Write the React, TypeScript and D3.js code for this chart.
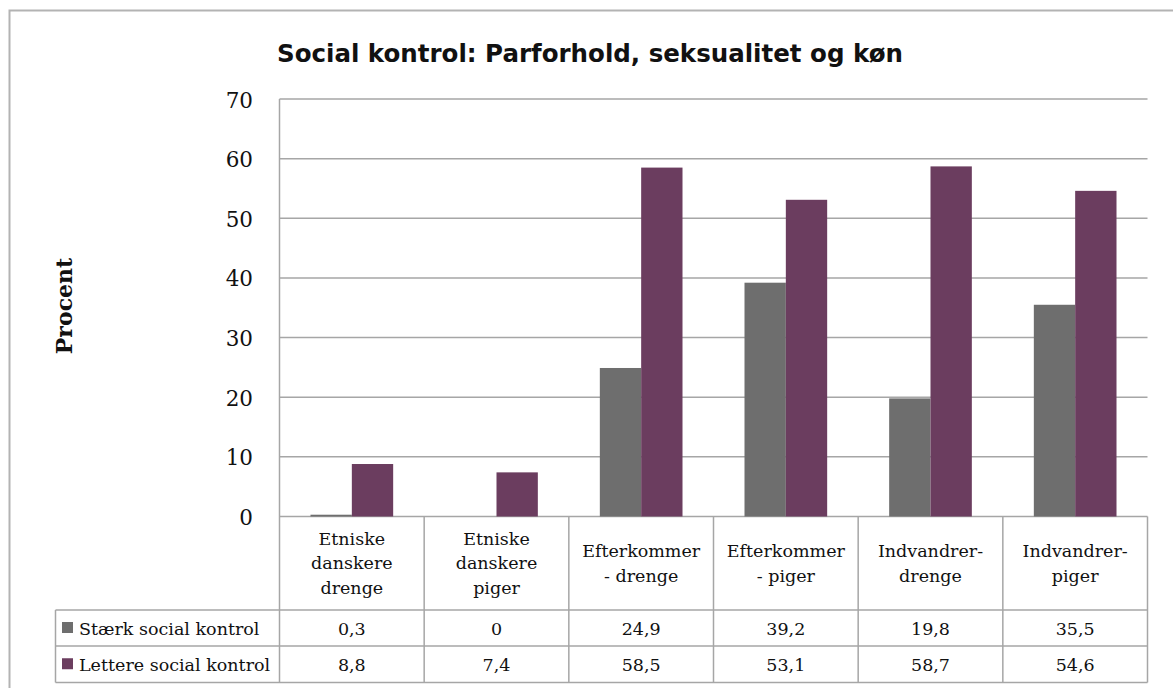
import React from "react";
import * as d3 from "d3";

const title = "Social kontrol: Parforhold, seksualitet og køn";
const yAxisTitle = "Procent";
const categories: string[][] = [
  ["Etniske", "danskere", "drenge"],
  ["Etniske", "danskere", "piger"],
  ["Efterkommer", "- drenge"],
  ["Efterkommer", "- piger"],
  ["Indvandrer-", "drenge"],
  ["Indvandrer-", "piger"],
];
const seriesNames = ["Stærk social kontrol", "Lettere social kontrol"];
const staerk = [0.3, 0, 24.9, 39.2, 19.8, 35.5];
const lettere = [8.8, 7.4, 58.5, 53.1, 58.7, 54.6];
const yTicks = [0, 10, 20, 30, 40, 50, 60, 70];
const seriesColors = ["#6e6e6e", "#6b3d5f"];

const W = 1173;
const H = 688;
const plotL = 279.5;
const plotR = 1147.5;
const plotT = 99;
const plotB = 516.5;
const catRowB = 610;
const row1B = 646;
const row2B = 682.5;
const tableL = 55.5;
const serif = "'DejaVu Serif', serif";
const gridColor = "#a6a6a6";

const fmt = (v: number) => String(v).replace(".", ",");

export default function App() {
  const series = [staerk, lettere];
  const x = d3
    .scaleBand<number>()
    .domain(categories.map((_, i) => i))
    .range([plotL, plotR])
    .padding(0);
  const xs = d3
    .scaleBand<number>()
    .domain([0, 1])
    .range([0, x.bandwidth()])
    .paddingInner(0)
    .paddingOuter(0.75);
  const y = d3.scaleLinear().domain([0, 70]).range([plotB, plotT]);

  const rowYs = [
    [catRowB, row1B],
    [row1B, row2B],
  ];

  return (
    <svg
      width={W}
      height={H}
      style={{ position: "absolute", left: 0, top: 0, background: "#fff" }}
    >
      <rect x={0} y={0} width={W} height={H} fill="#fff" />
      {/* outer chart border */}
      <rect
        x={9.5}
        y={10.5}
        width={W + 20}
        height={H + 20}
        fill="none"
        stroke="#b3b3b3"
        strokeWidth={2}
      />
      {/* title */}
      <text
        x={277}
        y={62}
        fontFamily="'DejaVu Sans', sans-serif"
        fontWeight="bold"
        fontSize={24.5}
        fill="#111"
      >
        {title}
      </text>
      {/* y axis title */}
      <text
        transform={`translate(72, 306) rotate(-90)`}
        textAnchor="middle"
        fontFamily={serif}
        fontWeight="bold"
        fontSize={22}
        fill="#111"
      >
        {yAxisTitle}
      </text>
      {/* gridlines */}
      {yTicks.map((t) => (
        <line
          key={"g" + t}
          x1={plotL}
          x2={plotR}
          y1={y(t)}
          y2={y(t)}
          stroke={gridColor}
          strokeWidth={1.5}
        />
      ))}
      {/* y tick labels */}
      {yTicks.map((t) => (
        <text
          key={"t" + t}
          x={253}
          y={y(t) + 1}
          textAnchor="end"
          dominantBaseline="central"
          fontFamily={serif}
          fontSize={21.5}
          fill="#111"
        >
          {t}
        </text>
      ))}
      {/* bars */}
      {series.map((vals, s) =>
        vals.map((v, i) => (
          <rect
            key={`b${s}-${i}`}
            x={(x(i) ?? 0) + (xs(s) ?? 0)}
            y={y(v)}
            width={xs.bandwidth()}
            height={Math.max(0, y(0) - y(v))}
            fill={seriesColors[s]}
          />
        ))
      )}
      {/* axis left line */}
      <line
        x1={plotL}
        x2={plotL}
        y1={plotT}
        y2={row2B}
        stroke={gridColor}
        strokeWidth={1.5}
      />
      {/* table: category row vertical lines */}
      {categories.map((_, i) => (
        <line
          key={"cv" + i}
          x1={(x(i) ?? 0) + x.bandwidth()}
          x2={(x(i) ?? 0) + x.bandwidth()}
          y1={plotB}
          y2={row2B}
          stroke={gridColor}
          strokeWidth={1.5}
        />
      ))}
      {/* table horizontal lines */}
      {[catRowB, row1B, row2B].map((yy, k) => (
        <line
          key={"th" + k}
          x1={tableL}
          x2={plotR}
          y1={yy}
          y2={yy}
          stroke={gridColor}
          strokeWidth={1.5}
        />
      ))}
      <line
        x1={tableL}
        x2={tableL}
        y1={catRowB}
        y2={row2B}
        stroke={gridColor}
        strokeWidth={1.5}
      />
      {/* category labels */}
      {categories.map((lines, i) => {
        const cx = (x(i) ?? 0) + x.bandwidth() / 2;
        const cy = (plotB + catRowB) / 2;
        const lh = 24.5;
        return (
          <text
            key={"c" + i}
            textAnchor="middle"
            fontFamily={serif}
            fontSize={17.5}
            fill="#111"
          >
            {lines.map((ln, j) => (
              <tspan
                key={j}
                x={cx}
                y={cy + (j - (lines.length - 1) / 2) * lh}
                dominantBaseline="central"
              >
                {ln}
              </tspan>
            ))}
          </text>
        );
      })}
      {/* legend + values rows */}
      {series.map((vals, s) => {
        const [r0, r1] = rowYs[s];
        const cy = (r0 + r1) / 2;
        return (
          <g key={"row" + s}>
            <rect
              x={62}
              y={cy - 6}
              width={11}
              height={11}
              fill={seriesColors[s]}
            />
            <text
              x={79}
              y={cy + 1}
              dominantBaseline="central"
              fontFamily={serif}
              fontSize={17.5}
              fill="#111"
            >
              {seriesNames[s]}
            </text>
            {vals.map((v, i) => (
              <text
                key={i}
                x={(x(i) ?? 0) + x.bandwidth() / 2}
                y={cy + 1}
                textAnchor="middle"
                dominantBaseline="central"
                fontFamily={serif}
                fontSize={17.5}
                fill="#111"
              >
                {fmt(v)}
              </text>
            ))}
          </g>
        );
      })}
    </svg>
  );
}
